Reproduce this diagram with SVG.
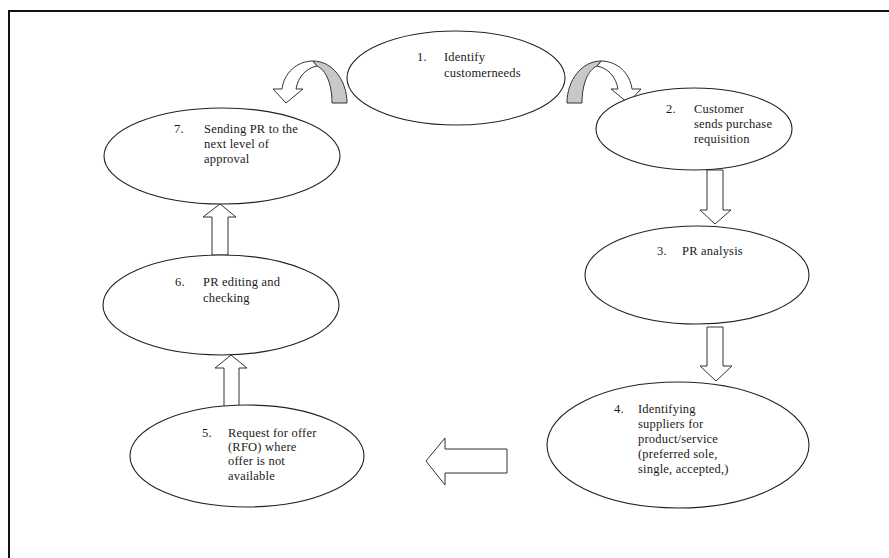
<svg xmlns="http://www.w3.org/2000/svg" width="889" height="558" viewBox="0 0 889 558">
<style>
.bg{fill:#fff}
.frame{stroke:#111;stroke-width:2;fill:none}
.node{fill:#fff;stroke:#222;stroke-width:1.1}
.arr{fill:#fff;stroke:#333;stroke-width:1}
.shade{fill:#c8c8c8;stroke:#333;stroke-width:1}
text{font-family:"Liberation Serif","Times New Roman",serif;font-size:12.5px;fill:#1a1a1a;letter-spacing:0.2px}
</style>
<rect class="bg" x="0" y="0" width="889" height="558"/>
<path class="frame" d="M9,558 L9,11 L889,11"/>
<g id="connectors">
  <g id="curve-7-1">
    <path class="arr" d="M313,61 C297,61 284,73 282,89 L273,89 L286,103 L303,89 L296,89 C298,77 306,68 317,66 Z"/>
    <path class="shade" d="M313,61 C332,61 347,80 347,103 L332,103 C332,84 326,70 317,66 Z"/>
  </g>
  <g id="curve-1-2" transform="translate(914,0) scale(-1,1)">
    <path class="arr" d="M313,61 C297,61 284,73 282,89 L273,89 L286,103 L303,89 L296,89 C298,77 306,68 317,66 Z"/>
    <path class="shade" d="M313,61 C332,61 347,80 347,103 L332,103 C332,84 326,70 317,66 Z"/>
  </g>
  <path id="a23" class="arr" d="M707,170 L723,170 L723,210 L731,210 L715,224 L700,210 L707,210 Z"/>
  <path id="a34" class="arr" d="M707,327 L723,327 L723,366 L732,366 L716,381 L700,366 L707,366 Z"/>
  <path id="a45" class="arr" d="M507,449 L445,449 L445,438 L426,461 L445,485 L445,473 L507,473 Z"/>
  <path id="a56" class="arr" d="M224,408 L239,408 L239,368 L247,368 L231,355 L215,368 L224,368 Z"/>
  <path id="a67" class="arr" d="M212,255 L228,255 L228,217 L236,217 L220,204 L203,217 L212,217 Z"/>
</g>
<g id="n1">
  <ellipse class="node" cx="456" cy="78" rx="109" ry="47"/>
  <text x="417" y="61">1.</text>
  <text x="444" y="61">Identify</text>
  <text x="444" y="77">customerneeds</text>
</g>
<g id="n2">
  <ellipse class="node" cx="694" cy="129" rx="98" ry="41"/>
  <text x="666" y="113">2.</text>
  <text x="694" y="113">Customer</text>
  <text x="694" y="128">sends purchase</text>
  <text x="694" y="143">requisition</text>
</g>
<g id="n3">
  <ellipse class="node" cx="697" cy="275" rx="112" ry="49"/>
  <text x="657" y="255">3.</text>
  <text x="682" y="255">PR analysis</text>
</g>
<g id="n4">
  <ellipse class="node" cx="678" cy="445" rx="131" ry="63"/>
  <text x="614" y="413">4.</text>
  <text x="638" y="413">Identifying</text>
  <text x="638" y="428">suppliers for</text>
  <text x="638" y="443">product/service</text>
  <text x="638" y="458">(preferred sole,</text>
  <text x="638" y="473">single, accepted,)</text>
</g>
<g id="n5">
  <ellipse class="node" cx="247" cy="456" rx="117" ry="51"/>
  <text x="202" y="437">5.</text>
  <text x="228" y="437">Request for offer</text>
  <text x="228" y="451">(RFO) where</text>
  <text x="228" y="465">offer is not</text>
  <text x="228" y="480">available</text>
</g>
<g id="n6">
  <ellipse class="node" cx="221" cy="305" rx="118" ry="50"/>
  <text x="175" y="286">6.</text>
  <text x="203" y="286">PR editing and</text>
  <text x="203" y="302">checking</text>
</g>
<g id="n7">
  <ellipse class="node" cx="222" cy="156" rx="118" ry="48"/>
  <text x="174" y="133">7.</text>
  <text x="204" y="133">Sending PR to the</text>
  <text x="204" y="148">next level of</text>
  <text x="204" y="163">approval</text>
</g>
</svg>
